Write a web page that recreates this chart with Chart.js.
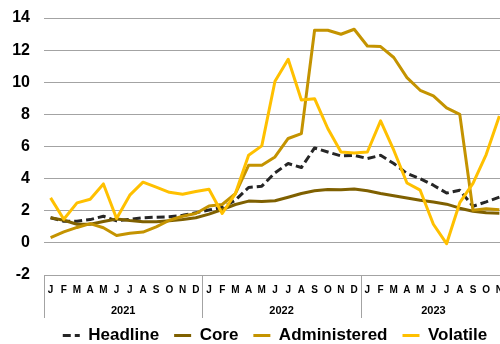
<!DOCTYPE html>
<html>
<head>
<meta charset="utf-8">
<script src="https://cdn.jsdelivr.net/npm/chart.js@4"></script>
<style>
  html, body { margin: 0; padding: 0; background: #fff; overflow: hidden; }
</style>
</head>
<body>
<canvas id="inflation" width="512" height="344"></canvas>
<script>
// Jan 2021 .. Nov 2023 (the last month sits just past the right edge)
var months = ["J","F","M","A","M","J","J","A","S","O","N","D",
              "J","F","M","A","M","J","J","A","S","O","N","D",
              "J","F","M","A","M","J","J","A","S","O","N"];
var yearLabels = ["2021", "2022", "2023"];
var yearMonths = [12, 12, 11];

var headline = [1.56, 1.35, 1.35, 1.45, 1.66, 1.37, 1.47, 1.56, 1.6, 1.62, 1.72, 1.87,
                2.05, 2.2, 2.66, 3.45, 3.53, 4.36, 4.94, 4.69, 5.91, 5.66, 5.41, 5.45,
                5.25, 5.45, 4.94, 4.32, 4.0, 3.59, 3.1, 3.28, 2.28, 2.55, 2.85];
var core = [1.56, 1.41, 1.16, 1.16, 1.33, 1.49, 1.39, 1.31, 1.31, 1.37, 1.45, 1.56,
            1.79, 2.08, 2.39, 2.6, 2.58, 2.62, 2.84, 3.07, 3.24, 3.32, 3.3, 3.36,
            3.24, 3.07, 2.93, 2.8, 2.66, 2.54, 2.41, 2.16, 1.97, 1.87, 1.84];
var administered = [0.33, 0.68, 0.96, 1.2, 0.94, 0.46, 0.6, 0.67, 1.0, 1.41, 1.66, 1.83,
                    2.3, 2.39, 3.07, 4.83, 4.83, 5.35, 6.5, 6.8, 13.24, 13.24, 12.99, 13.3,
                    12.26, 12.22, 11.54, 10.29, 9.5, 9.15, 8.4, 8.0, 2.03, 2.12, 2.06];
var volatile = [2.8, 1.47, 2.49, 2.72, 3.67, 1.52, 2.97, 3.78, 3.47, 3.15, 3.03, 3.2,
                3.34, 1.83, 3.07, 5.46, 6.04, 10.06, 11.43, 8.9, 8.98, 7.12, 5.66, 5.6,
                5.66, 7.6, 5.77, 3.73, 3.28, 1.16, -0.05, 2.5, 3.7, 5.5, 7.9];

var gridGrey = "#a3a3a3";
Chart.defaults.font.family = "'Liberation Sans', Arial, sans-serif";
Chart.defaults.color = "#000";

// year captions and the separators under the month letters
var yearBands = {
    id: "yearBands",
    afterDraw: function(chart) {
        var x = chart.scales.x;
        var area = chart.chartArea;
        var ctx = chart.ctx;
        var step = (x.right - x.left) / months.length;
        var start = 0;
        ctx.save();
        ctx.strokeStyle = gridGrey;
        ctx.lineWidth = 1;
        ctx.fillStyle = "#000";
        ctx.font = "bold 11px 'Liberation Sans', Arial, sans-serif";
        ctx.textAlign = "center";
        ctx.textBaseline = "middle";
        for (var i = 0; i < yearLabels.length; i++) {
            var left = x.getPixelForValue(start) - step / 2;
            var right = x.getPixelForValue(start + yearMonths[i] - 1) + step / 2;
            var px = Math.round(left) + 0.5;
            ctx.beginPath();
            ctx.moveTo(px, area.bottom);
            ctx.lineTo(px, area.bottom + 43);
            ctx.stroke();
            ctx.fillText(yearLabels[i], (left + right) / 2, area.bottom + 35.5);
            start += yearMonths[i];
        }
        ctx.restore();
    }
};

var myChart = new Chart(document.getElementById("inflation").getContext("2d"), {
    type: "line",
    data: {
        labels: months,
        datasets: [{
            label: "Headline",
            data: headline,
            borderColor: "#262626",
            backgroundColor: "#262626",
            borderDash: [8, 4],
            order: 4
        }, {
            label: "Core",
            data: core,
            borderColor: "#7f6000",
            backgroundColor: "#7f6000",
            order: 3
        }, {
            label: "Administered",
            data: administered,
            borderColor: "#c49300",
            backgroundColor: "#c49300",
            order: 2
        }, {
            label: "Volatile",
            data: volatile,
            borderColor: "#ffc000",
            backgroundColor: "#ffc000",
            order: 1
        }]
    },
    options: {
        responsive: false,
        animation: false,
        devicePixelRatio: 1,
        elements: {
            line: { borderWidth: 3, tension: 0, borderJoinStyle: "round" },
            point: { radius: 0, hoverRadius: 0 }
        },
        layout: { padding: { top: 18, right: 1, left: 0, bottom: 0 } },
        scales: {
            x: {
                type: "category",
                offset: true,
                grid: { display: false, drawTicks: false },
                border: { display: true, color: gridGrey, width: 1 },
                ticks: {
                    autoSkip: false,
                    maxRotation: 0,
                    padding: 9,
                    font: { size: 10, weight: "bold" }
                },
                afterFit: function(scale) { scale.height = 37; }
            },
            y: {
                min: -2,
                max: 14,
                ticks: {
                    stepSize: 2,
                    padding: 14,
                    font: { size: 16, weight: "bold" }
                },
                grid: { color: gridGrey, lineWidth: 1, drawTicks: false },
                border: { display: false },
                afterFit: function(scale) {
                    scale.width = 44;
                    scale.paddingTop = 0;
                    scale.paddingBottom = 0;
                }
            }
        },
        plugins: {
            tooltip: { enabled: false },
            legend: {
                position: "bottom",
                fullSize: false,
                maxHeight: 32,
                labels: {
                    usePointStyle: true,
                    pointStyle: "line",
                    pointStyleWidth: 17,
                    padding: 15,
                    color: "#000",
                    font: { size: 17, weight: "bold" },
                    sort: function(a, b) { return a.datasetIndex - b.datasetIndex; },
                    generateLabels: function(chart) {
                        var items = Chart.defaults.plugins.legend.labels.generateLabels(chart);
                        items.forEach(function(item) {
                            var ds = chart.data.datasets[item.datasetIndex];
                            item.lineWidth = 3;
                            item.lineDash = ds.borderDash || [];
                            item.strokeStyle = ds.borderColor;
                        });
                        return items;
                    }
                }
            }
        }
    },
    plugins: [yearBands]
});
</script>
</body>
</html>
